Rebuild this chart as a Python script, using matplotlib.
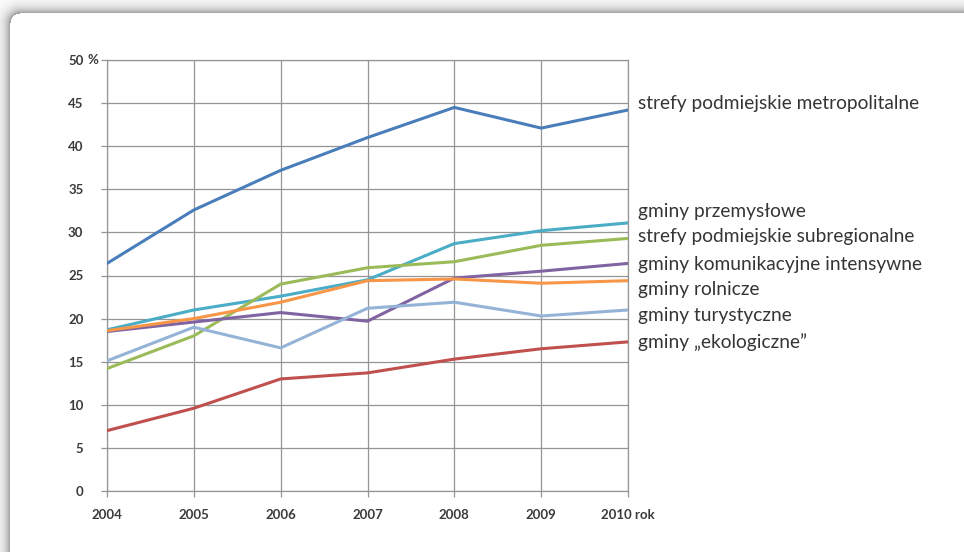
import numpy as np
import matplotlib
matplotlib.use("Agg")
import matplotlib.pyplot as plt

years = [2004, 2005, 2006, 2007, 2008, 2009, 2010]

series_names = [
    "strefy podmiejskie metropolitalne",
    "gminy przemysłowe",
    "strefy podmiejskie subregionalne",
    "gminy komunikacyjne intensywne",
    "gminy rolnicze",
    "gminy turystyczne",
    "gminy \u201eekologiczne\u201d",
]

metropolitalne = [26.4, 32.6, 37.2, 41.0, 44.5, 42.1, 44.2]
przemyslowe = [18.7, 21.0, 22.6, 24.5, 28.7, 30.2, 31.1]
subregionalne = [14.2, 18.0, 24.0, 25.9, 26.6, 28.5, 29.3]
komunikacyjne = [18.5, 19.6, 20.7, 19.7, 24.7, 25.5, 26.4]
rolnicze = [18.6, 20.0, 21.9, 24.4, 24.6, 24.1, 24.4]
turystyczne = [15.1, 19.0, 16.6, 21.2, 21.9, 20.3, 21.0]
ekologiczne = [7.0, 9.6, 13.0, 13.7, 15.3, 16.5, 17.3]

values = [metropolitalne, przemyslowe, subregionalne, komunikacyjne,
          rolnicze, turystyczne, ekologiczne]
colors = ["#4A7EBB", "#4BACC6", "#9BBB59", "#8064A2", "#F79646",
          "#95B3D7", "#C0504D"]
# vertical placement of the right-hand series labels (data units)
label_y = [44.9, 32.4, 29.5, 26.3, 23.4, 20.4, 17.3]

y_ticks = [0, 5, 10, 15, 20, 25, 30, 35, 40, 45, 50]
x_labels = ["2004", "2005", "2006", "2007", "2008", "2009", "2010 rok"]

W, H = 964, 552
fig = plt.figure(figsize=(W / 100, H / 100), dpi=100)

# page card with a soft shadow along its top and left edges
yy, xx = np.mgrid[0:H, 0:W].astype(float)
cx, cy, r = 10.0, 13.0, 10.0
dx = np.clip(cx + r - xx, 0, None)
dy = np.clip(cy + r - yy, 0, None)
dist = np.hypot(dx, dy) - r
inside = dist <= 0
shade = np.where(inside, 1.0, 1.0 - 0.40 * np.exp(-np.clip(dist, 0, None) / 6.0))
bg = np.dstack([shade, shade, shade])
fig.figimage(bg, xo=0, yo=0, origin="upper", zorder=-10)

ax = fig.add_axes([107 / W, 1 - 491 / H, (628 - 107) / W, (491 - 60) / H])
ax.set_facecolor("none")
ax.set_zorder(5)

grid_c = "#959595"
for vals, col in zip(values, colors):
    ax.plot(years, vals, color=col, lw=2.2, solid_capstyle="round",
            solid_joinstyle="round", zorder=3)

ax.set_xlim(2004, 2010)
ax.set_ylim(0, 50)
ax.set_xticks(years)
ax.set_xticklabels(x_labels)
ax.set_yticks(y_ticks)
ax.set_yticklabels([str(t) for t in y_ticks])
ax.grid(True, color=grid_c, lw=0.9, zorder=1)
for s in ax.spines.values():
    s.set_color(grid_c)
    s.set_linewidth(0.9)
ax.tick_params(axis="both", direction="out", length=4, width=0.9,
               color=grid_c, labelsize=9.5, labelcolor="#3a3a3a")
ax.tick_params(axis="y", pad=13)
ax.tick_params(axis="x", pad=9)
for lab in ax.get_xticklabels() + ax.get_yticklabels():
    lab.set_fontfamily("Lato")
    lab.set_fontweight("bold")

# unit sign next to the top value of the y axis
ax.annotate("%", xy=(0, 50), xycoords=("axes fraction", "data"),
            xytext=(-20, 0), textcoords="offset pixels", ha="left",
            va="center", fontsize=9.5, color="#3a3a3a", family="Lato",
            fontweight="bold")

for name, ly in zip(series_names, label_y):
    ax.annotate(name, xy=(1, ly), xycoords=("axes fraction", "data"),
                xytext=(10, 0), textcoords="offset pixels", ha="left",
                va="center", fontsize=13.8, color="#353535", family="Lato")

fig.savefig("out.png", dpi=100)
